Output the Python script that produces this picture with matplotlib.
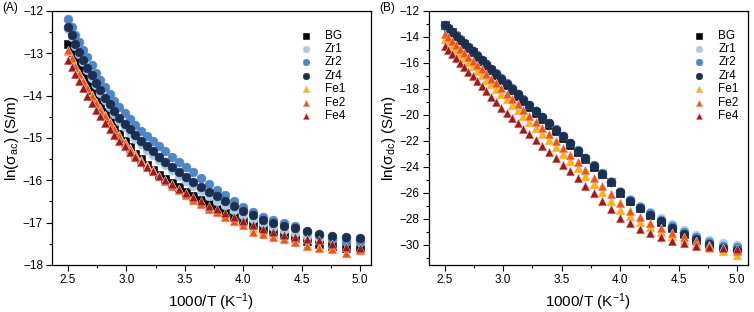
import matplotlib
matplotlib.use('Agg')
import matplotlib.pyplot as plt
from matplotlib.ticker import MultipleLocator

plt.rcParams['font.family'] = ['Liberation Sans', 'DejaVu Sans']
plt.rcParams['mathtext.default'] = 'regular'

# temperature steps, 400 K down to 200 K
T = [400, 395, 390, 385, 380, 375, 370, 365, 360, 355, 350, 345, 340, 335,
     330, 325, 320, 315, 310, 305, 300, 295, 290, 285, 280, 275, 270, 265,
     260, 255, 250, 245, 240, 235, 230, 225, 220, 215, 210, 205, 200]
inv_T = [1000.0 / t for t in T]

# (A) ln(sigma_ac)
ac_BG = [-12.77, -12.98, -13.15, -13.32, -13.50, -13.68, -13.86, -14.04, -14.22, -14.39,
         -14.56, -14.73, -14.91, -15.07, -15.22, -15.37, -15.51, -15.64, -15.76, -15.87,
         -15.97, -16.07, -16.17, -16.27, -16.37, -16.47, -16.57, -16.67, -16.77, -16.87,
         -16.96, -17.05, -17.13, -17.21, -17.29, -17.37, -17.44, -17.50, -17.55, -17.59, -17.62]
ac_Zr1 = [-12.42, -12.62, -12.82, -13.01, -13.20, -13.39, -13.58, -13.76, -13.94, -14.11,
          -14.28, -14.44, -14.59, -14.74, -14.88, -15.02, -15.15, -15.28, -15.41, -15.53,
          -15.65, -15.77, -15.89, -16.01, -16.13, -16.25, -16.37, -16.48, -16.59, -16.70,
          -16.81, -16.92, -17.02, -17.10, -17.18, -17.25, -17.31, -17.36, -17.40, -17.43, -17.45]
ac_Zr2 = [-12.20, -12.38, -12.56, -12.74, -12.92, -13.10, -13.28, -13.46, -13.63, -13.80,
          -13.96, -14.12, -14.27, -14.42, -14.56, -14.70, -14.83, -14.96, -15.08, -15.20,
          -15.32, -15.44, -15.56, -15.68, -15.80, -15.95, -16.08, -16.22, -16.35, -16.50,
          -16.63, -16.75, -16.86, -16.94, -17.01, -17.08, -17.22, -17.30, -17.38, -17.45, -17.43]
ac_Zr4 = [-12.38, -12.58, -12.77, -12.96, -13.15, -13.34, -13.52, -13.70, -13.88, -14.05,
          -14.21, -14.37, -14.52, -14.66, -14.80, -14.94, -15.07, -15.20, -15.32, -15.44,
          -15.56, -15.68, -15.80, -15.92, -16.04, -16.15, -16.27, -16.38, -16.49, -16.60,
          -16.72, -16.83, -16.93, -17.01, -17.08, -17.14, -17.21, -17.26, -17.31, -17.35, -17.37]
ac_Fe1 = [-12.95, -13.13, -13.30, -13.47, -13.64, -13.81, -13.98, -14.14, -14.30, -14.46,
          -14.62, -14.78, -14.94, -15.09, -15.24, -15.38, -15.52, -15.65, -15.77, -15.89,
          -16.00, -16.10, -16.21, -16.32, -16.43, -16.53, -16.63, -16.72, -16.81, -16.90,
          -16.99, -17.12, -17.20, -17.28, -17.36, -17.44, -17.52, -17.58, -17.61, -17.71, -17.66]
ac_Fe2 = [-12.93, -13.12, -13.30, -13.48, -13.66, -13.83, -14.00, -14.17, -14.33, -14.49,
          -14.65, -14.80, -14.96, -15.11, -15.26, -15.40, -15.54, -15.67, -15.79, -15.91,
          -16.02, -16.13, -16.24, -16.35, -16.47, -16.57, -16.67, -16.76, -16.86, -16.97,
          -17.06, -17.22, -17.28, -17.33, -17.40, -17.47, -17.55, -17.60, -17.62, -17.72, -17.66]
ac_Fe4 = [-13.15, -13.32, -13.49, -13.66, -13.83, -14.00, -14.17, -14.33, -14.49, -14.64,
          -14.79, -14.93, -15.07, -15.20, -15.33, -15.45, -15.57, -15.68, -15.79, -15.90,
          -16.00, -16.10, -16.20, -16.30, -16.40, -16.50, -16.60, -16.69, -16.78, -16.87,
          -16.96, -17.06, -17.15, -17.23, -17.30, -17.35, -17.39, -17.42, -17.50, -17.57, -17.61]

# (B) ln(sigma_dc)
dc_BG = [-13.10, -13.37, -13.65, -13.94, -14.24, -14.55, -14.87, -15.19, -15.52, -15.86,
         -16.21, -16.57, -16.94, -17.32, -17.71, -18.11, -18.52, -18.95, -19.38, -19.83,
         -20.28, -20.76, -21.25, -21.76, -22.28, -22.83, -23.40, -23.98, -24.57, -25.20,
         -25.98, -26.64, -27.18, -27.70, -28.22, -28.72, -29.20, -29.60, -29.98, -30.25, -30.40]
dc_Zr1 = [-13.05, -13.32, -13.59, -13.87, -14.17, -14.47, -14.78, -15.09, -15.41, -15.74,
          -16.08, -16.44, -16.80, -17.17, -17.56, -17.95, -18.36, -18.79, -19.22, -19.67,
          -20.13, -20.62, -21.11, -21.63, -22.15, -22.71, -23.28, -23.88, -24.48, -25.12,
          -25.85, -26.50, -27.00, -27.45, -27.90, -28.38, -28.85, -29.23, -29.60, -29.82, -30.00]
dc_Zr2 = [-13.06, -13.33, -13.60, -13.88, -14.18, -14.48, -14.79, -15.10, -15.42, -15.75,
          -16.09, -16.45, -16.81, -17.18, -17.57, -17.96, -18.37, -18.80, -19.23, -19.68,
          -20.14, -20.63, -21.12, -21.64, -22.16, -22.72, -23.29, -23.89, -24.50, -25.15,
          -25.90, -26.56, -27.08, -27.58, -28.06, -28.55, -29.02, -29.40, -29.78, -30.05, -30.20]
dc_Zr4 = [-13.08, -13.35, -13.62, -13.90, -14.20, -14.50, -14.81, -15.12, -15.44, -15.77,
          -16.11, -16.47, -16.83, -17.20, -17.59, -17.98, -18.39, -18.82, -19.25, -19.70,
          -20.16, -20.65, -21.14, -21.66, -22.18, -22.74, -23.31, -23.91, -24.52, -25.17,
          -25.95, -26.62, -27.15, -27.67, -28.18, -28.68, -29.15, -29.55, -29.95, -30.22, -30.36]
dc_Fe1 = [-14.15, -14.43, -14.71, -15.00, -15.31, -15.61, -15.93, -16.25, -16.59, -16.93,
          -17.28, -17.65, -18.01, -18.40, -18.79, -19.21, -19.63, -20.06, -20.51, -20.97,
          -21.45, -21.95, -22.45, -22.99, -23.53, -24.10, -24.70, -25.31, -25.94, -26.61,
          -27.29, -27.78, -28.22, -28.62, -29.00, -29.35, -29.66, -29.95, -30.22, -30.48, -30.78]
dc_Fe2 = [-13.75, -14.03, -14.31, -14.59, -14.90, -15.20, -15.51, -15.84, -16.17, -16.50,
          -16.85, -17.22, -17.58, -17.96, -18.36, -18.76, -19.18, -19.62, -20.06, -20.52,
          -20.99, -21.48, -21.99, -22.52, -23.06, -23.62, -24.21, -24.82, -25.45, -26.11,
          -26.79, -27.38, -27.88, -28.32, -28.72, -29.08, -29.42, -29.72, -30.00, -30.25, -30.45]
dc_Fe4 = [-14.67, -14.99, -15.30, -15.63, -15.97, -16.32, -16.67, -17.04, -17.41, -17.80,
          -18.19, -18.60, -19.02, -19.45, -19.85, -20.24, -20.64, -21.05, -21.48, -21.92,
          -22.36, -22.84, -23.32, -23.82, -24.34, -24.88, -25.45, -26.02, -26.62, -27.25,
          -27.90, -28.35, -28.78, -29.12, -29.42, -29.68, -29.88, -30.05, -30.15, -30.25, -30.30]

names = ['BG', 'Zr1', 'Zr2', 'Zr4', 'Fe1', 'Fe2', 'Fe4']
colors = ['#000000', '#a9cde6', '#4e86c8', '#1b2f50', '#ffb400', '#ee5512', '#9b1a1a']
markers = ['s', 'o', 'o', 'o', '^', '^', '^']
ac_data = [ac_BG, ac_Zr1, ac_Zr2, ac_Zr4, ac_Fe1, ac_Fe2, ac_Fe4]
dc_data = [dc_BG, dc_Zr1, dc_Zr2, dc_Zr4, dc_Fe1, dc_Fe2, dc_Fe4]

fig = plt.figure(figsize=(7.54, 3.12), dpi=100)
axA = fig.add_axes([0.069, 0.151, 0.4226, 0.814])
axB = fig.add_axes([0.5686, 0.151, 0.4230, 0.814])

for ax, data, lx in [(axA, ac_data, 0.745), (axB, dc_data, 0.797)]:
    for name, c, m, y in zip(names, colors, markers, data):
        ec = '#f2b8b0' if m == '^' else c
        ax.scatter(inv_T, y, s=40 if m != 's' else 30, marker=m, color=c,
                   edgecolors=ec, linewidths=0.4, label=name, zorder=3)
    ax.set_xlim(2.365, 5.09)
    ax.xaxis.set_major_locator(MultipleLocator(0.5))
    ax.xaxis.set_minor_locator(MultipleLocator(0.25))
    ax.tick_params(which='both', direction='out', labelsize=8.5, width=0.8, pad=2.5)
    ax.tick_params(which='major', length=4)
    ax.tick_params(which='minor', length=2.5)
    for sp in ax.spines.values():
        sp.set_linewidth(0.9)
    ax.set_xlabel('1000/T (K$^{-1}$)', fontsize=11, labelpad=4)
    ax.set_xticks([2.5, 3.0, 3.5, 4.0, 4.5, 5.0])
    ax.set_xticklabels(['2.5', '3.0', '3.5', '4.0', '4.5', '5.0'])
    ax.legend(loc='upper left', bbox_to_anchor=(lx, 0.945), frameon=False,
              fontsize=8.5, handletextpad=0.6, labelspacing=0.12,
              borderaxespad=0, scatterpoints=1, markerscale=0.75)

axA.set_ylim(-18, -12)
axA.yaxis.set_major_locator(MultipleLocator(1))
axA.yaxis.set_minor_locator(MultipleLocator(0.5))
axA.set_ylabel('ln($\\sigma_{ac}$) (S/m)', fontsize=11, labelpad=1)

axB.set_ylim(-31.54, -12)
axB.yaxis.set_major_locator(MultipleLocator(2))
axB.yaxis.set_minor_locator(MultipleLocator(1))
axB.set_ylabel('ln($\\sigma_{dc}$) (S/m)', fontsize=11, labelpad=1)

fig.text(0.003, 0.975, '(A)', fontsize=8.5, va='center')
fig.text(0.503, 0.975, '(B)', fontsize=8.5, va='center')

fig.savefig('out.png', dpi=100)
